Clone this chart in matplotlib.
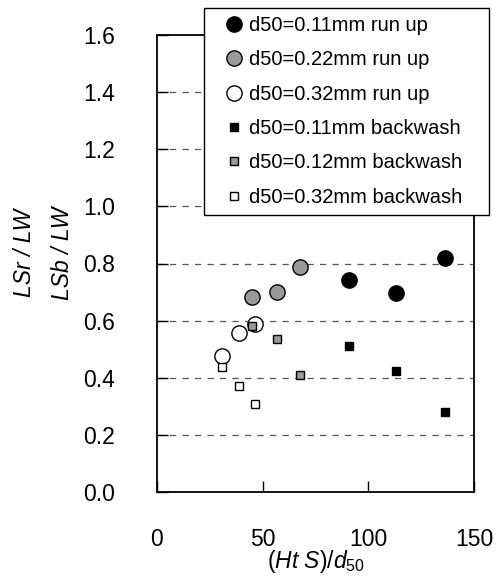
import numpy as np
import matplotlib
matplotlib.use('Agg')
import matplotlib.pyplot as plt

plt.rcParams['font.family'] = ['Liberation Sans', 'DejaVu Sans']
plt.rcParams['mathtext.fontset'] = 'custom'
plt.rcParams['mathtext.rm'] = 'Liberation Sans'
plt.rcParams['mathtext.it'] = 'Liberation Sans:italic'

# x positions (Ht S)/d50 per sediment size
x_011 = [90.8, 113.3, 136.5]
x_022 = [45.1, 56.6, 67.6]
x_032 = [30.7, 38.9, 46.5]

# run up LSr/LW
runup_011 = [0.742, 0.698, 0.818]
runup_022 = [0.682, 0.701, 0.789]
runup_032 = [0.476, 0.556, 0.588]

# backwash LSb/LW
back_011 = [0.511, 0.425, 0.279]
back_012 = [0.581, 0.536, 0.410]
back_032 = [0.437, 0.371, 0.309]

labels = ['d50=0.11mm run up', 'd50=0.22mm run up', 'd50=0.32mm run up',
          'd50=0.11mm backwash', 'd50=0.12mm backwash', 'd50=0.32mm backwash']

xticks = [0, 50, 100, 150]
yticks = [0.0, 0.2, 0.4, 0.6, 0.8, 1.0, 1.2, 1.4, 1.6]

gray = '#999999'

fig = plt.figure(figsize=(5.02, 5.86), dpi=100)
ax = fig.add_axes([157/502, 1-492/586, (474-157)/502, (492-35)/586])

for yv in yticks[1:-1]:
    ax.axhline(yv, color='#555555', lw=0.9, linestyle=(0, (5, 5)), zorder=1)

h = []
h += ax.plot(x_011, runup_011, 'o', ms=11, mfc='black', mec='black', mew=1, zorder=3)
h += ax.plot(x_022, runup_022, 'o', ms=11, mfc=gray, mec='black', mew=1, zorder=3)
h += ax.plot(x_032, runup_032, 'o', ms=11, mfc='white', mec='black', mew=1, zorder=3)
h += ax.plot(x_011, back_011, 's', ms=5.5, mfc='black', mec='black', mew=1, zorder=4)
h += ax.plot(x_022, back_012, 's', ms=5.5, mfc=gray, mec='black', mew=1, zorder=4)
h += ax.plot(x_032, back_032, 's', ms=5.5, mfc='white', mec='black', mew=1, zorder=4)

ax.set_xlim(0, 150)
ax.set_ylim(0, 1.6)
ax.set_xticks(xticks)
ax.set_yticks(yticks)
ax.set_yticklabels(['%.1f' % v for v in yticks])
ax.tick_params(direction='in', length=8, width=1, labelsize=16.5, pad=26)
ax.tick_params(axis='y', pad=30)
for s in ax.spines.values():
    s.set_linewidth(1.3)

ax.set_xlabel(r'$(Ht\ S)/d_{50}$', fontsize=16.5, labelpad=-2)

fig.text(25/502, 1-253/586, 'LSr / LW', rotation=90, style='italic',
         fontsize=16.5, ha='center', va='center')
fig.text(63/502, 1-253/586, 'LSb / LW', rotation=90, style='italic',
         fontsize=16.5, ha='center', va='center')

leg = fig.legend(h, labels, loc='upper left',
                 bbox_to_anchor=(204/502, 1-209/586, 285/502, 201/586),
                 mode='expand', borderaxespad=0, fancybox=False,
                 edgecolor='black', framealpha=1,
                 fontsize=14.5, handlelength=2.2, handletextpad=-0.35,
                 borderpad=0.4, labelspacing=0.76)
leg.get_frame().set_linewidth(1.0)
leg.set_zorder(10)

fig.savefig('out.png', dpi=100)
